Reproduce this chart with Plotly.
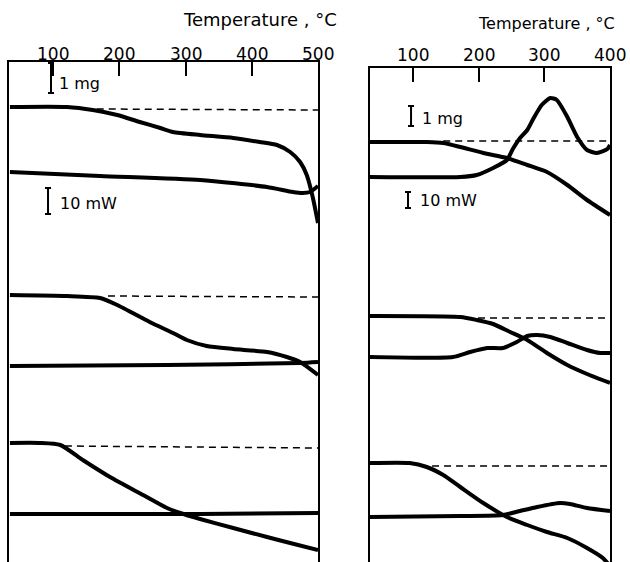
import plotly.graph_objects as go

# ---------------- data (temperature in degC, signal in chart units, downward) -------------
# Left panel (up to 500 degC)
L_tg1_T = [35, 121, 160, 197, 231, 262, 281, 322, 372, 412, 438, 458, 473, 483, 492, 500]
L_tg1_y = [107, 107, 110, 115, 122, 128, 132, 135, 138, 142, 145, 152, 162, 175, 197, 223]
L_base1_T = [166, 500]
L_base1_y = [109, 110]
L_dta1_T = [35, 171, 322, 423, 462, 477, 488, 500]
L_dta1_y = [172, 176, 180, 187, 192, 193, 192, 186]

L_tg2_T = [35, 121, 171, 197, 246, 281, 302, 332, 372, 423, 453, 473, 500]
L_tg2_y = [295, 296, 298, 305, 322, 333, 340, 346, 349, 352, 357, 362, 375]
L_base2_T = [183, 500]
L_base2_y = [296, 297]
L_dta2_T = [35, 272, 473, 500]
L_dta2_y = [366, 365, 363, 362]

L_tg3_T = [35, 80, 111, 145, 186, 236, 272, 292, 322, 372, 423, 458, 500]
L_tg3_y = [443, 443, 445, 460, 477, 495, 508, 513, 519, 528, 537, 543, 550]
L_base3_T = [118, 500]
L_base3_y = [446, 448]
L_dta3_T = [35, 322, 500]
L_dta3_y = [514, 514, 513]

# Right panel (up to 400 degC)
R_tg1_T = [34.5, 121, 146, 172, 207, 243, 274, 304, 335, 365, 400]
R_tg1_y = [142, 142, 143, 147, 153, 158, 165, 172, 185, 200, 215]
R_base1_T = [146, 400]
R_base1_y = [141, 141]
R_dta1_T = [34.5, 172, 197, 222, 243, 252, 263, 274, 283, 296, 309, 319, 335, 350, 365, 380, 396, 400]
R_dta1_y = [177, 177, 175, 168, 160, 149, 138, 130, 119, 105, 98, 100, 117, 137, 150, 153, 149, 145]

R_tg2_T = [34.5, 172, 197, 222, 248, 274, 304, 335, 365, 400]
R_tg2_y = [316, 317, 320, 324, 332, 340, 353, 365, 374, 383]
R_base2_T = [199, 400]
R_base2_y = [318, 318]
R_dta2_T = [34.5, 161, 187, 213, 237, 258, 274, 289, 309, 335, 365, 385, 400]
R_dta2_y = [357, 357, 352, 348, 348, 342, 336, 335, 337, 343, 350, 353, 353]

R_tg3_T = [34.5, 95, 121, 146, 172, 207, 243, 274, 304, 335, 365, 389, 400]
R_tg3_y = [463, 463, 467, 475, 487, 503, 517, 525, 532, 538, 548, 558, 566]
R_base3_T = [129, 400]
R_base3_y = [466, 466]
R_dta3_T = [34.5, 172, 237, 263, 289, 324, 339, 365, 400]
R_dta3_y = [517, 516, 515, 511, 507, 503, 504, 508, 511]

# scale bars: (temperature, centre, half length) and labels
L_bar_T = [97, 92.5]
L_bar_y = [78, 201]
L_bar_half = [15, 13]
L_bar_text = ["1 mg", "10 mW"]
L_text_T = [106, 107.5]
L_text_y = [84, 203]

R_bar_T = [97, 92.4]
R_bar_y = [116, 200]
R_bar_half = [10, 8]
R_bar_text = ["1 mg", "10 mW"]
R_text_T = [110.7, 107.6]
R_text_y = [118, 200]

L_ticks = [100, 200, 300, 400, 500]
R_ticks = [100, 200, 300, 400]
L_tick_labels = ["100", "200", "300", "400", "500"]
R_tick_labels = ["100", "200", "300", "400"]
axis_title = "Temperature , °C"

# ---------------- figure -------------
W, H = 630, 562
fig = go.Figure()
FONT = "DejaVu Sans"

def curve(T, y, ax, dashed=False):
    if dashed:
        line = dict(color="black", width=1.5, dash="7px,5px")
    else:
        line = dict(color="black", width=4, shape="spline", smoothing=0.6)
    fig.add_trace(go.Scatter(x=T, y=y, mode="lines", line=line,
                             xaxis="x" if ax == 1 else "x2",
                             yaxis="y" if ax == 1 else "y2",
                             hoverinfo="skip"))

for T, y in [(L_tg1_T, L_tg1_y), (L_dta1_T, L_dta1_y), (L_tg2_T, L_tg2_y),
             (L_dta2_T, L_dta2_y), (L_tg3_T, L_tg3_y), (L_dta3_T, L_dta3_y)]:
    curve(T, y, 1)
for T, y in [(L_base1_T, L_base1_y), (L_base2_T, L_base2_y), (L_base3_T, L_base3_y)]:
    curve(T, y, 1, dashed=True)
for T, y in [(R_tg1_T, R_tg1_y), (R_dta1_T, R_dta1_y), (R_tg2_T, R_tg2_y),
             (R_dta2_T, R_dta2_y), (R_tg3_T, R_tg3_y), (R_dta3_T, R_dta3_y)]:
    curve(T, y, 2)
for T, y in [(R_base1_T, R_base1_y), (R_base2_T, R_base2_y), (R_base3_T, R_base3_y)]:
    curve(T, y, 2, dashed=True)

# scale bars as error bars
for bx, by, bh, ax in [(L_bar_T, L_bar_y, L_bar_half, "1"), (R_bar_T, R_bar_y, R_bar_half, "2")]:
    fig.add_trace(go.Scatter(x=bx, y=by, mode="markers",
                             marker=dict(size=1, color="rgba(0,0,0,0)"),
                             error_y=dict(type="data", array=bh, symmetric=True,
                                          color="black", thickness=2, width=3),
                             xaxis="x" if ax == "1" else "x2",
                             yaxis="y" if ax == "1" else "y2",
                             hoverinfo="skip"))

annotations = []
for txts, tx, ty, ax in [(L_bar_text, L_text_T, L_text_y, ""), (R_bar_text, R_text_T, R_text_y, "2")]:
    for t, x, y in zip(txts, tx, ty):
        annotations.append(dict(text=t, x=x, y=y, xref="x" + ax, yref="y" + ax,
                                xanchor="left", yanchor="middle", showarrow=False,
                                font=dict(family=FONT, size=16, color="black")))

# tick labels placed just above the frame
for vals, labs, ax, ypx in [(L_ticks, L_tick_labels, "x", 54), (R_ticks, R_tick_labels, "x2", 55)]:
    for v, lab in zip(vals, labs):
        annotations.append(dict(text=lab, x=v, y=1 - ypx / H, xref=ax, yref="paper",
                                xanchor="center", yanchor="middle", showarrow=False,
                                font=dict(family=FONT, size=17, color="black")))

annotations.append(dict(text=axis_title, x=260 / W, y=1 - 20 / H, xref="paper", yref="paper",
                        xanchor="center", yanchor="middle", showarrow=False,
                        font=dict(family=FONT, size=18, color="black")))
annotations.append(dict(text=axis_title, x=546 / W, y=1 - 24 / H, xref="paper", yref="paper",
                        xanchor="center", yanchor="middle", showarrow=False,
                        font=dict(family=FONT, size=16, color="black")))

xcommon = dict(side="top", showline=True, linewidth=2, linecolor="black",
               ticks="inside", ticklen=14, tickwidth=1.5, tickcolor="black",
               showgrid=False, zeroline=False, automargin=False, showticklabels=False)
ycommon = dict(showline=True, mirror=True, linewidth=2, linecolor="black",
               showticklabels=False, ticks="", showgrid=False, zeroline=False,
               automargin=False)

fig.update_layout(
    width=W, height=H,
    margin=dict(l=0, r=0, t=0, b=0, pad=0, autoexpand=False),
    paper_bgcolor="white", plot_bgcolor="white",
    showlegend=False,
    xaxis=dict(domain=[9 / W, 318 / W], range=[33.6, 500], tickvals=L_ticks, anchor="y", **xcommon),
    yaxis=dict(domain=[0, 1 - 62 / H], range=[562, 62], anchor="x", **ycommon),
    xaxis2=dict(domain=[370 / W, 610 / W], range=[34.5, 400], tickvals=R_ticks, anchor="y2", **xcommon),
    yaxis2=dict(domain=[0, 1 - 68 / H], range=[562, 68], anchor="x2", **ycommon),
    annotations=annotations,
)

fig.write_html(
    "out.html",
    config={"responsive": False, "displayModeBar": False},
    post_script="document.body.style.margin='0';document.body.style.padding='0';"
                "document.documentElement.style.overflow='hidden';",
)
